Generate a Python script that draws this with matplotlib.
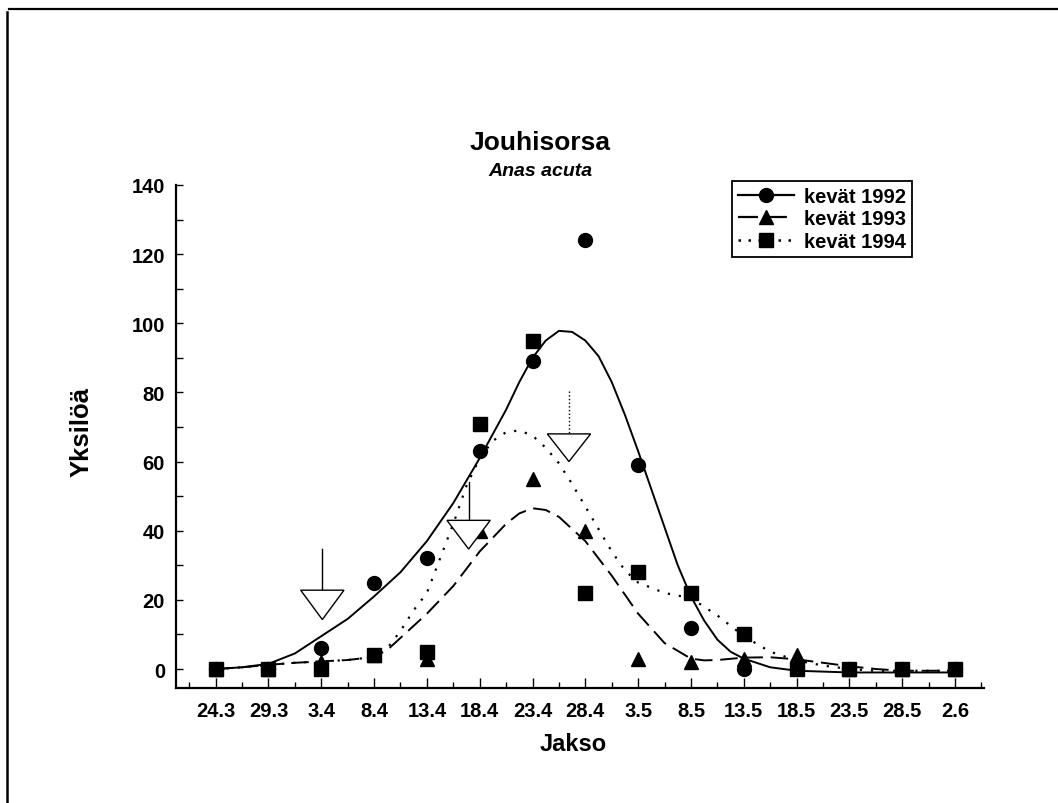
import matplotlib
matplotlib.use("Agg")
import matplotlib.pyplot as plt
from matplotlib.lines import Line2D
from matplotlib.patches import Polygon
from matplotlib.ticker import MultipleLocator
import numpy as np

plt.rcParams['font.family'] = ['Liberation Sans', 'DejaVu Sans']

# ---- data ----
periods = ["24.3", "29.3", "3.4", "8.4", "13.4", "18.4", "23.4", "28.4",
           "3.5", "8.5", "13.5", "18.5", "23.5", "28.5", "2.6"]
obs_1992 = [0, 0, 6, 25, 32, 63, 89, 124, 59, 12, 0, 0, 0, 0, 0]
obs_1993 = [0, 0, 2, 4, 3, 40, 55, 40, 3, 2, 3, 4, 0, 0, 0]
obs_1994 = [0, 0, 0, 4, 5, 71, 95, 22, 28, 22, 10, 0, 0, 0, 0]

# fitted curves (position in period index, value)
fit92_x = [0, 0.5, 1, 1.5, 2, 2.5, 3, 3.5, 4, 4.5, 5, 5.25, 5.5, 5.75, 6,
           6.25, 6.5, 6.75, 7, 7.25, 7.5, 7.75, 8, 8.25, 8.5, 8.75, 9, 9.25,
           9.5, 9.75, 10, 10.5, 11, 12, 13, 14]
fit92_y = [0, 0.5, 1.5, 4.5, 9.5, 14.5, 21, 28, 37, 48, 61, 68, 75, 83, 90,
           95, 97.8, 97.5, 95, 90.5, 83, 73.5, 63, 52, 41, 30, 21, 14, 8.5,
           5, 3, 0.5, -0.5, -1, -1, -1]
fit93_x = [0, 0.5, 1, 1.5, 2, 2.5, 3, 3.25, 3.5, 3.75, 4, 4.5, 5, 5.5, 5.75,
           6, 6.25, 6.5, 7, 7.5, 8, 8.5, 9, 9.25, 9.5, 10, 10.5, 11, 11.5, 12,
           12.5, 13, 14]
fit93_y = [0, 0.5, 1.2, 1.8, 2.2, 2.6, 3.5, 5.5, 9, 12.5, 16, 24, 34, 42, 45,
           46.5, 46, 44, 37, 27, 16, 7.5, 3, 2.5, 2.6, 3.3, 3.4, 2.8, 1.8, 0.8,
           0, -0.5, -0.5]
fit94_x = [0, 0.5, 1, 1.5, 2, 2.5, 3, 3.25, 3.5, 3.75, 4, 4.25, 4.5, 4.75, 5,
           5.25, 5.5, 5.75, 6, 6.25, 6.5, 6.75, 7, 7.25, 7.5, 7.75, 8, 8.5, 9,
           9.5, 10, 10.5, 11, 11.5, 12, 12.5, 13, 14]
fit94_y = [0, 0.5, 1.2, 1.8, 2.2, 2.6, 3.5, 6, 11, 17, 22, 32, 42, 53, 61, 66,
           68.5, 69, 67.5, 64, 59.5, 53.5, 47, 40.5, 34, 28.5, 25, 22, 20.5,
           15.5, 9.5, 5, 2.5, 1, 0, -0.5, -0.5, -0.5]

# arrows (mean passage dates): position, line top, triangle top, tip
arrow_x = [2.02, 4.79, 6.69]
arrow_line_top = [34.6, 54.0, 80.5]
arrow_tri_top = [22.8, 43.0, 68.0]
arrow_tip = [14.3, 34.7, 60.0]
arrow_styles = ['-', '-', ':']

labels = ["kevät 1992", "kevät 1993", "kevät 1994"]

# ---- figure ----
fig = plt.figure(figsize=(10.58, 8.04), dpi=100)
ax = fig.add_axes([0.1664, 0.143, 0.7637, 0.6257])

x = np.arange(len(periods))
ax.plot(fit92_x, fit92_y, color='black', lw=1.4, ls='-', zorder=2)
ax.plot(fit93_x, fit93_y, color='black', lw=1.4, ls=(0, (9, 4)), zorder=2)
ax.plot(fit94_x, fit94_y, color='black', lw=1.6, ls=(0, (1, 4)), zorder=2)

ax.plot(x, obs_1992, ls='none', marker='o', ms=10, color='black', zorder=3)
ax.plot(x, obs_1993, ls='none', marker='^', ms=10, color='black', zorder=4)
ax.plot(x, obs_1994, ls='none', marker='s', ms=10, color='black', zorder=5)

half_w = 0.41
for ax_x, lt, tt, tip, st in zip(arrow_x, arrow_line_top, arrow_tri_top,
                                 arrow_tip, arrow_styles):
    ax.plot([ax_x, ax_x], [lt, tt], color='black', lw=1.0, ls=st, zorder=2)
    tri = Polygon([[ax_x - half_w, tt], [ax_x + half_w, tt], [ax_x, tip]],
                  closed=True, facecolor='white', edgecolor='black', lw=1.0,
                  zorder=6)
    ax.add_patch(tri)

ax.set_xlim(-0.75, 14.55)
ax.set_ylim(-5.5, 140)

ax.spines['top'].set_visible(False)
ax.spines['right'].set_visible(False)
ax.spines['left'].set_linewidth(1.6)
ax.spines['bottom'].set_linewidth(1.6)

ax.set_xticks(x)
ax.set_xticklabels(periods)
ax.xaxis.set_minor_locator(MultipleLocator(0.5))
ax.yaxis.set_major_locator(MultipleLocator(20))
ax.yaxis.set_minor_locator(MultipleLocator(10))
ax.tick_params(axis='x', which='major', direction='in', length=7, width=1.0,
               pad=9, labelsize=14.5)
ax.tick_params(axis='x', which='minor', direction='in', length=4, width=1.0)
ax.tick_params(axis='y', which='major', direction='in', length=5, width=1.0,
               pad=8, labelsize=14.5)
ax.tick_params(axis='y', which='minor', direction='in', length=5, width=1.0)
for lab in ax.get_xticklabels() + ax.get_yticklabels():
    lab.set_fontweight('bold')

# axis labels
fig.text(82 / 1058, 1 - 432 / 804, "Yksilöä", rotation=90, ha='center',
         va='center', fontsize=18.5, fontweight='bold')
fig.text(573 / 1058, 1 - 745 / 804, "Jakso", ha='center', va='center',
         fontsize=17, fontweight='bold')

# titles
fig.text(540 / 1058, 1 - 143 / 804, "Jouhisorsa", ha='center', va='center',
         fontsize=19, fontweight='bold')
fig.text(540 / 1058, 1 - 172 / 804, "Anas acuta", ha='center', va='center',
         fontsize=14, fontweight='bold', style='italic')

# legend
handles = [
    Line2D([], [], color='black', lw=1.6, ls='-', marker='o', ms=10),
    Line2D([], [], color='black', lw=1.6, ls=(0, (9, 4)), marker='^', ms=10),
    Line2D([], [], color='black', lw=1.8, ls=(0, (1, 3)), marker='s', ms=10),
]
leg = ax.legend(handles, labels, loc='upper left',
                bbox_to_anchor=(0.688, 1.008), borderaxespad=0.0,
                numpoints=1, handlelength=2.8,
                handletextpad=0.5, labelspacing=0.17, borderpad=0.3,
                fancybox=False, framealpha=1, edgecolor='black',
                prop={'weight': 'bold', 'size': 14.5})
leg.get_frame().set_linewidth(1.3)

# page border lines (top and left)
fig.add_artist(Line2D([9 / 1058, 1.0], [1 - 10 / 804, 1 - 10 / 804],
                      transform=fig.transFigure, color='black', lw=1.6))
fig.add_artist(Line2D([7 / 1058, 7 / 1058], [0.0, 1 - 13 / 804],
                      transform=fig.transFigure, color='black', lw=1.8))

fig.savefig("out.png", dpi=100)
